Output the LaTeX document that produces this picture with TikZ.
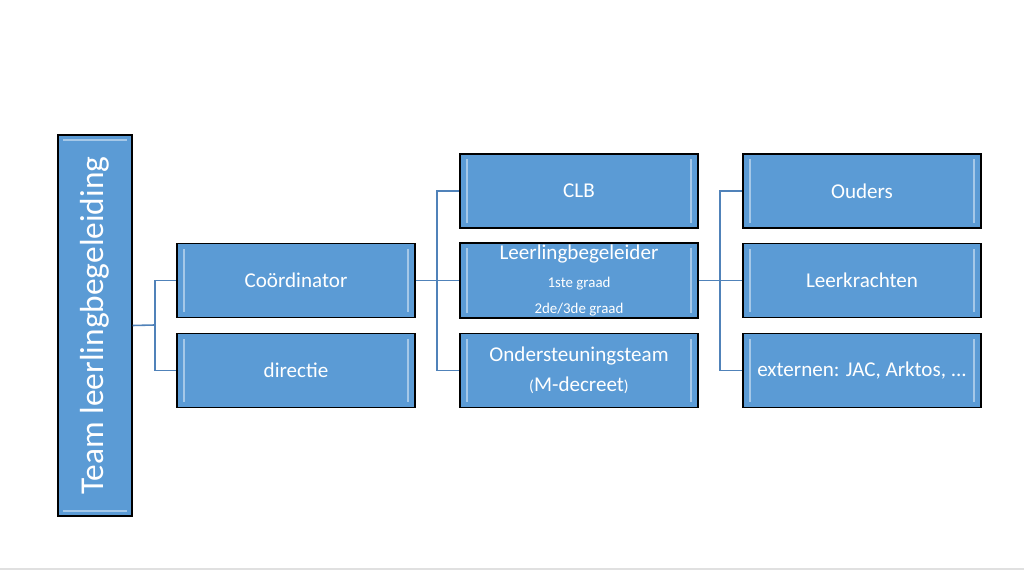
\documentclass[tikz,border=0pt]{standalone}
\usepackage{fontspec}
\setmainfont{Carlito}
\definecolor{boxblue}{RGB}{91,155,213}
\definecolor{linkblue}{RGB}{80,130,185}
\tikzset{
  box/.style={rectangle, draw=black, line width=0.8pt, fill=boxblue, text=white,
    minimum width=238*0.02cm, minimum height=74*0.02cm, inner sep=1pt, align=center,
    font=\fontsize{12}{14}\selectfont,
    path picture={
      \draw[white!45!boxblue, line width=1.4pt]
        ([xshift=4pt,yshift=-3pt]path picture bounding box.north west) -- ([xshift=4pt,yshift=3pt]path picture bounding box.south west)
        ([xshift=-4pt,yshift=-3pt]path picture bounding box.north east) -- ([xshift=-4pt,yshift=3pt]path picture bounding box.south east);}},
  link/.style={draw=linkblue, line width=0.9pt}
}
\begin{document}
\begin{tikzpicture}[x=0.02cm, y=-0.02cm]
  \useasboundingbox (0,0) rectangle (1024,573);
  \draw[black!12, line width=1pt] (0,569) -- (1024,569);
  % left column
  \node (team) [box, minimum width=381*0.02cm, minimum height=74*0.02cm, rotate=90,
    path picture={}, font=\fontsize{19}{22}\selectfont] at (95,325.5) {Team leerlingbegeleiding};
  \draw[white!45!boxblue, line width=1.4pt] (63,140) -- (127,140) (63,511) -- (127,511);
  \node (coord) [box] at (296,280.5) {Coördinator};
  \node (dir) [box] at (296,370.5) {directie};
  % middle column
  \node (clb) [box] at (579,191) {CLB};
  \node (llb) [box] at (579,280.5) {Leerlingbegeleider\\[2pt]{\fontsize{8.5}{10}\selectfont 1ste graad}\\[1pt]{\fontsize{8.5}{10}\selectfont 2de/3de graad}};
  \node (ond) [box] at (579,370.5) {Ondersteuningsteam\\[3pt]{\fontsize{9}{10}\selectfont(}M-decreet{\fontsize{9}{10}\selectfont)}};
  % right column
  \node (oud) [box] at (862,191) {Ouders};
  \node (lkr) [box] at (862,280.5) {Leerkrachten};
  \node (ext) [box] at (862,370.5) {externen: JAC, Arktos, ...};
  % connectors
  \coordinate (j1) at (155,325);
  \coordinate (j2) at (437,280.5);
  \coordinate (j3) at (720,280.5);
  \path[link] (team.south) -- (j1);
  \foreach \dest in {coord, dir}
    \path[link] (j1) |- (\dest.west);
  \path[link] (coord.east) -- (j2);
  \foreach \dest in {clb, llb, ond}
    \path[link] (j2) |- (\dest.west);
  \path[link] (llb.east) -- (j3);
  \foreach \dest in {oud, lkr, ext}
    \path[link] (j3) |- (\dest.west);
\end{tikzpicture}
\end{document}
